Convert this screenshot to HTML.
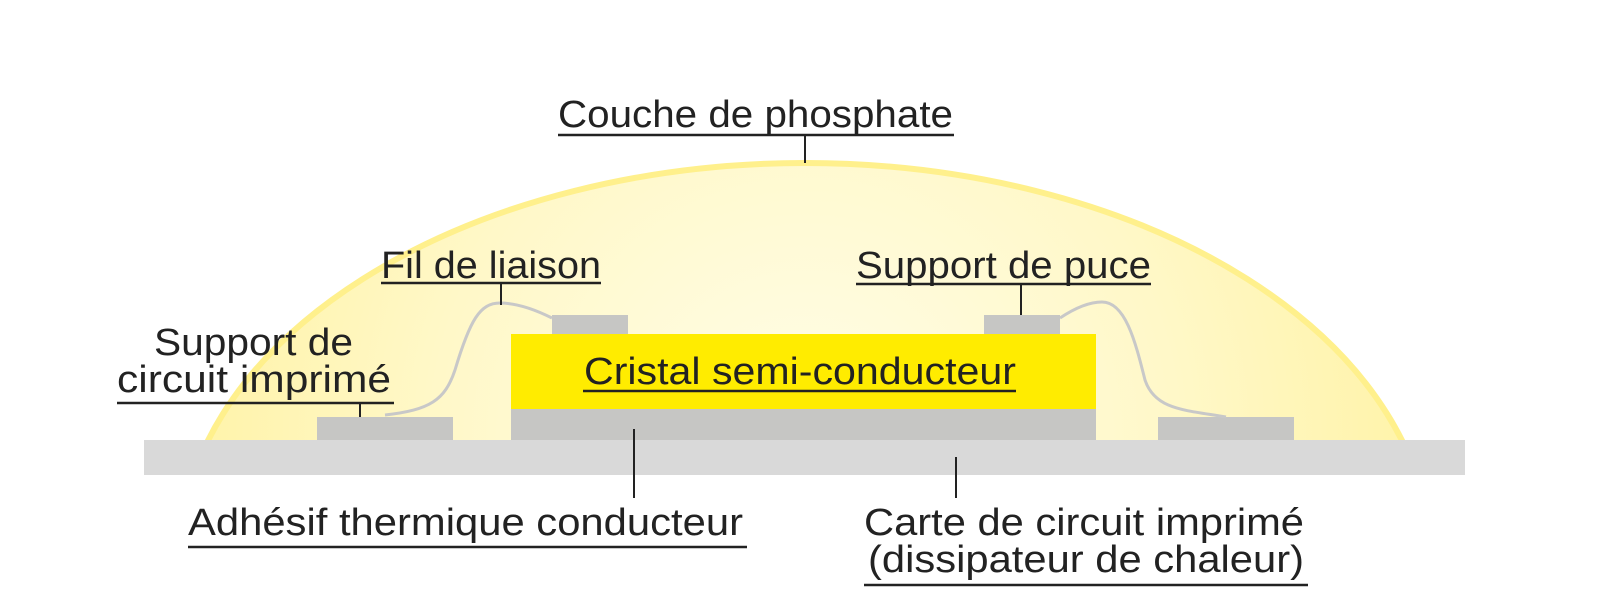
<!DOCTYPE html>
<html><head><meta charset="utf-8"><style>html,body{margin:0;padding:0;background:#fff;width:1619px;height:600px;overflow:hidden}svg{display:block}</style></head>
<body>
<svg width="1619" height="600" viewBox="0 0 1619 600" xmlns="http://www.w3.org/2000/svg">
<defs>
<radialGradient id="g" cx="805" cy="440" r="620" gradientUnits="userSpaceOnUse">
<stop offset="0" stop-color="#fffde8"/><stop offset="0.6" stop-color="#fff8c8"/><stop offset="1" stop-color="#fff3a8"/>
</radialGradient>
<clipPath id="c"><rect x="0" y="0" width="1619" height="440"/></clipPath>
</defs>
<ellipse cx="805" cy="560" rx="626" ry="397" fill="url(#g)" stroke="#fff08c" stroke-width="6" clip-path="url(#c)"/>
<rect x="144" y="440" width="1321" height="35" fill="#d9d9d9"/>
<rect x="511" y="409" width="585" height="31" fill="#c6c6c4"/>
<rect x="511" y="334" width="585" height="75" fill="#ffec00"/>
<rect x="552" y="315" width="76" height="19" fill="#c6c6c4"/>
<rect x="984" y="315" width="76" height="19" fill="#c6c6c4"/>
<rect x="317" y="417" width="136" height="23" fill="#c6c6c4"/>
<rect x="1158" y="417" width="136" height="23" fill="#c6c6c4"/>
<g fill="none" stroke="#c8c8c8" stroke-width="3">
<path d="M385 415 C430 410 445 400 455 370 C470 320 480 303 500 303 C520 303 540 312 552 318"/>
<path d="M1060 318 C1075 308 1090 302 1102 302 C1125 302 1135 340 1145 380 C1155 410 1185 410 1226 417"/>
</g>
<g stroke="#222" stroke-width="2">
<line x1="805" y1="135" x2="805" y2="163"/>
<line x1="501" y1="283" x2="501" y2="305"/>
<line x1="1021" y1="284" x2="1021" y2="315"/>
<line x1="360" y1="403" x2="360" y2="417"/>
<line x1="634" y1="429" x2="634" y2="498"/>
<line x1="956" y1="457" x2="956" y2="498"/>
</g>
<g stroke="#222" stroke-width="2.5">
<line x1="558" y1="135" x2="954" y2="135"/>
<line x1="381" y1="283" x2="601" y2="283"/>
<line x1="856" y1="284" x2="1151" y2="284"/>
<line x1="117" y1="403" x2="394" y2="403"/>
<line x1="583" y1="391" x2="1016" y2="391"/>
<line x1="188" y1="547" x2="747" y2="547"/>
<line x1="864" y1="585" x2="1308" y2="585"/>
</g>
<g font-family="Liberation Sans, sans-serif" font-size="38" fill="#222">
<text x="558" y="127" textLength="395" lengthAdjust="spacingAndGlyphs">Couche de phosphate</text>
<text x="381" y="278" textLength="220" lengthAdjust="spacingAndGlyphs">Fil de liaison</text>
<text x="856" y="278" textLength="295" lengthAdjust="spacingAndGlyphs">Support de puce</text>
<text x="154" y="355" textLength="199" lengthAdjust="spacingAndGlyphs">Support de</text>
<text x="117" y="392" textLength="274" lengthAdjust="spacingAndGlyphs">circuit imprimé</text>
<text x="584" y="384" textLength="432" lengthAdjust="spacingAndGlyphs">Cristal semi-conducteur</text>
<text x="188" y="535" textLength="555" lengthAdjust="spacingAndGlyphs">Adhésif thermique conducteur</text>
<text x="864" y="535" textLength="440" lengthAdjust="spacingAndGlyphs">Carte de circuit imprimé</text>
<text x="868" y="572" textLength="436" lengthAdjust="spacingAndGlyphs">(dissipateur de chaleur)</text>
</g>
</svg>
</body></html>
